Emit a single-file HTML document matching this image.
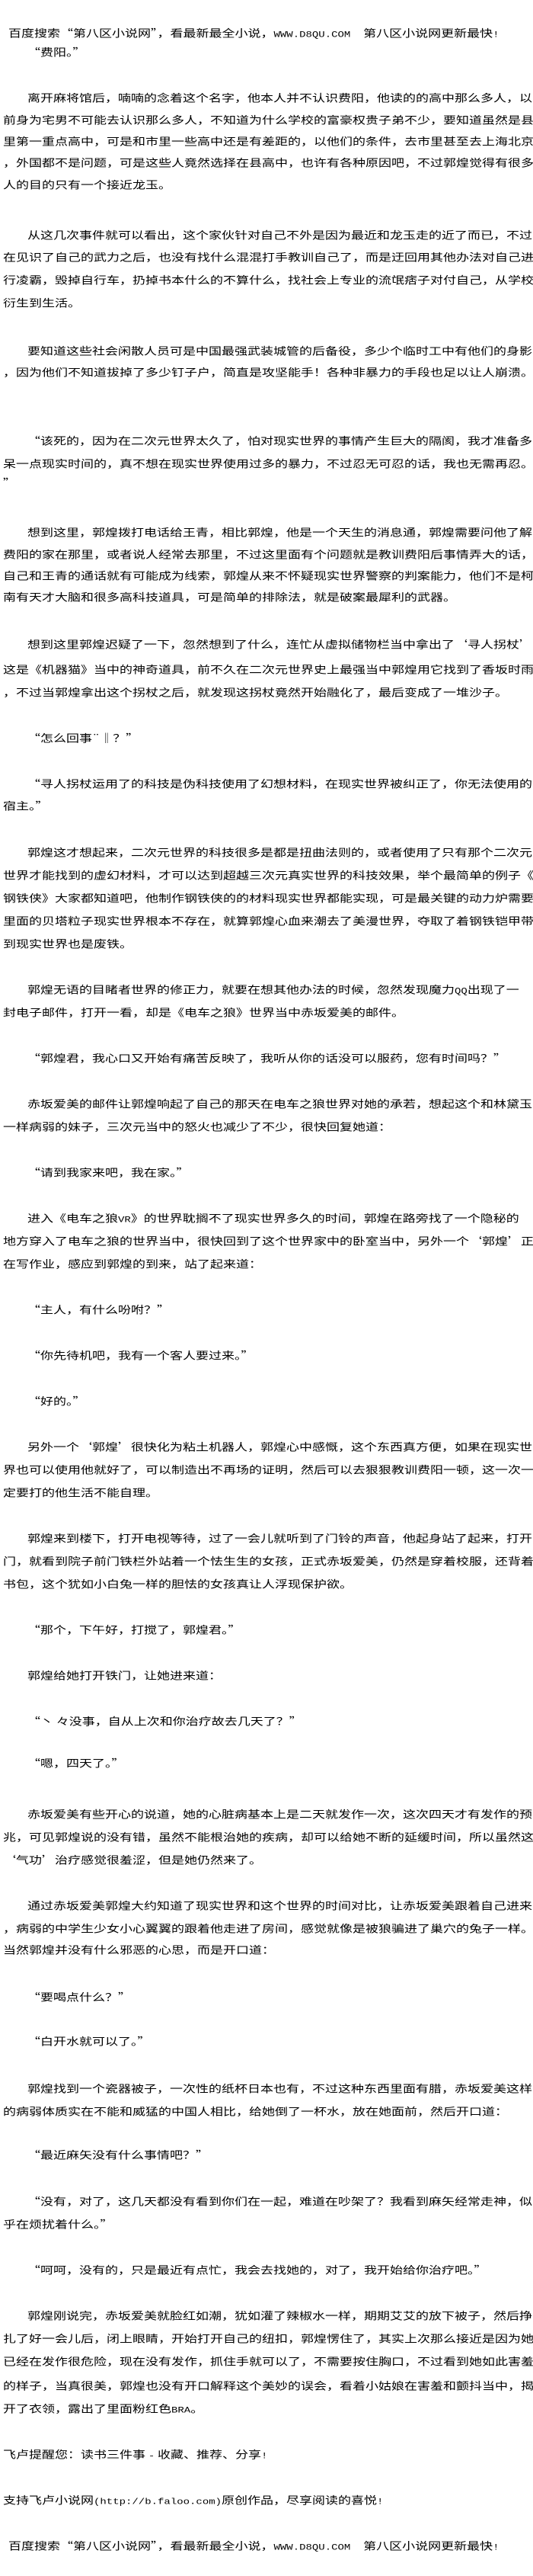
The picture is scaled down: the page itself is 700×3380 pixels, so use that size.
<!DOCTYPE html>
<html><head><meta charset="utf-8">
<style>
html,body{margin:0;padding:0;background:#fff;}
body{width:700px;height:3380px;position:relative;overflow:hidden;
font-family:"Noto Sans CJK SC","WenQuanYi Zen Hei",sans-serif;color:#000;font-size:17px;}
.l{position:absolute;left:4px;height:24px;line-height:24px;white-space:nowrap;transform:scaleY(0.8);transform-origin:left center;}
.i{left:36px;}
.h{left:11px;}
.m{font-family:"Liberation Mono",monospace;font-size:14px;}
</style></head><body>
<div class="l h" style="top:31px">百度搜索“第八区小说网”，看最新最全小说，<span class="m">WWW.D8QU.COM&nbsp;&nbsp;</span>第八区小说网更新最快<span class="m">!</span></div>
<div class="l i" style="top:56px">“费阳。”</div>

<div class="l i" style="top:116px">离开麻将馆后，喃喃的念着这个名字，他本人并不认识费阳，他读的的高中那么多人，以</div>
<div class="l" style="top:145px">前身为宅男不可能去认识那么多人，不知道为什么学校的富豪权贵子弟不少，要知道虽然是县</div>
<div class="l" style="top:173px">里第一重点高中，可是和市里一些高中还是有差距的，以他们的条件，去市里甚至去上海北京</div>
<div class="l" style="top:201px">，外国都不是问题，可是这些人竟然选择在县高中，也许有各种原因吧，不过郭煌觉得有很多</div>
<div class="l" style="top:230px">人的目的只有一个接近龙玉。</div>

<div class="l i" style="top:296px">从这几次事件就可以看出，这个家伙针对自己不外是因为最近和龙玉走的近了而已，不过</div>
<div class="l" style="top:325px">在见识了自己的武力之后，也没有找什么混混打手教训自己了，而是迂回用其他办法对自己进</div>
<div class="l" style="top:355px">行凌霸，毁掉自行车，扔掉书本什么的不算什么，找社会上专业的流氓痞子对付自己，从学校</div>
<div class="l" style="top:385px">衍生到生活。</div>

<div class="l i" style="top:448px">要知道这些社会闲散人员可是中国最强武装城管的后备役，多少个临时工中有他们的身影</div>
<div class="l" style="top:476px">，因为他们不知道拔掉了多少钉子户，简直是攻坚能手！各种非暴力的手段也足以让人崩溃。</div>

<div class="l i" style="top:566px">“该死的，因为在二次元世界太久了，怕对现实世界的事情产生巨大的隔阂，我才准备多</div>
<div class="l" style="top:596px">呆一点现实时间的，真不想在现实世界使用过多的暴力，不过忍无可忍的话，我也无需再忍。</div>
<div class="l" style="top:621px">”</div>

<div class="l i" style="top:686px">想到这里，郭煌拨打电话给王青，相比郭煌，他是一个天生的消息通，郭煌需要问他了解</div>
<div class="l" style="top:715px">费阳的家在那里，或者说人经常去那里，不过这里面有个问题就是教训费阳后事情弄大的话，</div>
<div class="l" style="top:743px">自己和王青的通话就有可能成为线索，郭煌从来不怀疑现实世界警察的判案能力，他们不是柯</div>
<div class="l" style="top:771px">南有天才大脑和很多高科技道具，可是简单的排除法，就是破案最犀利的武器。</div>

<div class="l i" style="top:833px">想到这里郭煌迟疑了一下，忽然想到了什么，连忙从虚拟储物栏当中拿出了‘寻人拐杖’</div>
<div class="l" style="top:866px">这是《机器猫》当中的神奇道具，前不久在二次元世界史上最强当中郭煌用它找到了香坂时雨</div>
<div class="l" style="top:896px">，不过当郭煌拿出这个拐杖之后，就发现这拐杖竟然开始融化了，最后变成了一堆沙子。</div>

<div class="l i" style="top:956px">“怎么回事¨‖？”</div>

<div class="l i" style="top:1016px">“寻人拐杖运用了的科技是伪科技使用了幻想材料，在现实世界被纠正了，你无法使用的</div>
<div class="l" style="top:1045px">宿主。”</div>

<div class="l i" style="top:1106px">郭煌这才想起来，二次元世界的科技很多是都是扭曲法则的，或者使用了只有那个二次元</div>
<div class="l" style="top:1136px">世界才能找到的虚幻材料，才可以达到超越三次元真实世界的科技效果，举个最简单的例子《</div>
<div class="l" style="top:1166px">钢铁侠》大家都知道吧，他制作钢铁侠的的材料现实世界都能实现，可是最关键的动力炉需要</div>
<div class="l" style="top:1196px">里面的贝塔粒子现实世界根本不存在，就算郭煌心血来潮去了美漫世界，夺取了着钢铁铠甲带</div>
<div class="l" style="top:1226px">到现实世界也是废铁。</div>

<div class="l i" style="top:1286px">郭煌无语的目睹者世界的修正力，就要在想其他办法的时候，忽然发现魔力<span class="m">QQ</span>出现了一</div>
<div class="l" style="top:1316px">封电子邮件，打开一看，却是《电车之狼》世界当中赤坂爱美的邮件。</div>

<div class="l i" style="top:1376px">“郭煌君，我心口又开始有痛苦反映了，我听从你的话没可以服药，您有时间吗？”</div>

<div class="l i" style="top:1436px">赤坂爱美的邮件让郭煌响起了自己的那天在电车之狼世界对她的承若，想起这个和林黛玉</div>
<div class="l" style="top:1466px">一样病弱的妹子，三次元当中的怒火也减少了不少，很快回复她道：</div>

<div class="l i" style="top:1526px">“请到我家来吧，我在家。”</div>

<div class="l i" style="top:1586px">进入《电车之狼<span class="m">VR</span>》的世界耽搁不了现实世界多久的时间，郭煌在路旁找了一个隐秘的</div>
<div class="l" style="top:1616px">地方穿入了电车之狼的世界当中，很快回到了这个世界家中的卧室当中，另外一个‘郭煌’正</div>
<div class="l" style="top:1646px">在写作业，感应到郭煌的到来，站了起来道：</div>

<div class="l i" style="top:1706px">“主人，有什么吩咐？”</div>

<div class="l i" style="top:1766px">“你先待机吧，我有一个客人要过来。”</div>

<div class="l i" style="top:1826px">“好的。”</div>

<div class="l i" style="top:1886px">另外一个‘郭煌’很快化为粘土机器人，郭煌心中感慨，这个东西真方便，如果在现实世</div>
<div class="l" style="top:1916px">界也可以使用他就好了，可以制造出不再场的证明，然后可以去狠狠教训费阳一顿，这一次一</div>
<div class="l" style="top:1946px">定要打的他生活不能自理。</div>

<div class="l i" style="top:2006px">郭煌来到楼下，打开电视等待，过了一会儿就听到了门铃的声音，他起身站了起来，打开</div>
<div class="l" style="top:2036px">门，就看到院子前门铁栏外站着一个怯生生的女孩，正式赤坂爱美，仍然是穿着校服，还背着</div>
<div class="l" style="top:2066px">书包，这个犹如小白兔一样的胆怯的女孩真让人浮现保护欲。</div>

<div class="l i" style="top:2126px">“那个，下午好，打搅了，郭煌君。”</div>

<div class="l i" style="top:2186px">郭煌给她打开铁门，让她进来道：</div>

<div class="l i" style="top:2246px">“丶 々没事，自从上次和你治疗故去几天了？”</div>

<div class="l i" style="top:2301px">“嗯，四天了。”</div>

<div class="l i" style="top:2368px">赤坂爱美有些开心的说道，她的心脏病基本上是二天就发作一次，这次四天才有发作的预</div>
<div class="l" style="top:2398px">兆，可见郭煌说的没有错，虽然不能根治她的疾病，却可以给她不断的延缓时间，所以虽然这</div>
<div class="l" style="top:2428px">‘气功’治疗感觉很羞涩，但是她仍然来了。</div>

<div class="l i" style="top:2488px">通过赤坂爱美郭煌大约知道了现实世界和这个世界的时间对比，让赤坂爱美跟着自己进来</div>
<div class="l" style="top:2518px">，病弱的中学生少女小心翼翼的跟着他走进了房间，感觉就像是被狼骗进了巢穴的兔子一样。</div>
<div class="l" style="top:2546px">当然郭煌并没有什么邪恶的心思，而是开口道：</div>

<div class="l i" style="top:2608px">“要喝点什么？”</div>

<div class="l i" style="top:2666px">“白开水就可以了。”</div>

<div class="l i" style="top:2728px">郭煌找到一个瓷器被子，一次性的纸杯日本也有，不过这种东西里面有腊，赤坂爱美这样</div>
<div class="l" style="top:2758px">的病弱体质实在不能和威猛的中国人相比，给她倒了一杯水，放在她面前，然后开口道：</div>

<div class="l i" style="top:2815px">“最近麻矢没有什么事情吧？”</div>

<div class="l i" style="top:2876px">“没有，对了，这几天都没有看到你们在一起，难道在吵架了？我看到麻矢经常走神，似</div>
<div class="l" style="top:2906px">乎在烦扰着什么。”</div>

<div class="l i" style="top:2966px">“呵呵，没有的，只是最近有点忙，我会去找她的，对了，我开始给你治疗吧。”</div>

<div class="l i" style="top:3026px">郭煌刚说完，赤坂爱美就脸红如潮，犹如灌了辣椒水一样，期期艾艾的放下被子，然后挣</div>
<div class="l" style="top:3056px">扎了好一会儿后，闭上眼睛，开始打开自己的纽扣，郭煌愣住了，其实上次那么接近是因为她</div>
<div class="l" style="top:3086px">已经在发作很危险，现在没有发作，抓住手就可以了，不需要按住胸口，不过看到她如此害羞</div>
<div class="l" style="top:3118px">的样子，当真很美，郭煌也没有开口解释这个美妙的误会，看着小姑娘在害羞和颤抖当中，揭</div>
<div class="l" style="top:3148px">开了衣领，露出了里面粉红色<span class="m">BRA</span>。</div>

<div class="l" style="top:3208px">飞卢提醒您：读书三件事 <span class="m">-</span> 收藏、推荐、分享<span class="m">!</span></div>

<div class="l" style="top:3268px">支持飞卢小说网<span class="m">(http://b.faloo.com)</span>原创作品，尽享阅读的喜悦<span class="m">!</span></div>

<div class="l h" style="top:3328px">百度搜索“第八区小说网”，看最新最全小说，<span class="m">WWW.D8QU.COM&nbsp;&nbsp;</span>第八区小说网更新最快<span class="m">!</span></div>
</body></html>
